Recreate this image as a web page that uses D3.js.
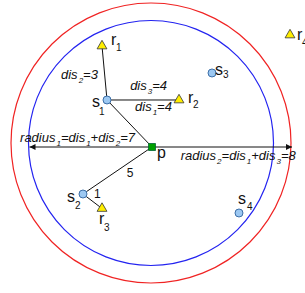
<!DOCTYPE html>
<html><head><meta charset="utf-8">
<script src="https://cdn.jsdelivr.net/npm/d3@7"></script>
<style>html,body{margin:0;padding:0;background:#fff;}svg{display:block;}</style>
</head><body>
<script>
// ---- data (units of distance; p is the origin) ----
const sites = [ // light blue circles
  {id:"s", sub:"1", x:-2.571, y:2.686, lx:-15, ly:7, sx:-8, sy:15},
  {id:"s", sub:"2", x:-3.943, y:-2.686, lx:-16, ly:8, sx:-8, sy:15},
  {id:"s", sub:"3", x:3.429, y:4.229, lx:3, ly:2, sx:11, sy:5},
  {id:"s", sub:"4", x:4.971, y:-3.771, lx:-1, ly:-9, sx:8, sy:-3}
];
const queries = [ // yellow triangles
  {id:"r", sub:"1", x:-2.857, y:5.771, lx:9, ly:-1, sx:14, sy:5},
  {id:"r", sub:"2", x:1.543, y:2.686, lx:9, ly:3, sx:14, sy:8},
  {id:"r", sub:"3", x:-2.857, y:-3.514, lx:-3, ly:16, sx:2, sy:23},
  {id:"r", sub:"4", x:7.886, y:6.4, lx:7, ly:5, sx:12, sy:11}
];
const pPoint = {x:0, y:0};
const circleCenter = {x:-0.057, y:0.229};
const radii = [ {r:7, color:"#2323f0"}, {r:8, color:"#f02323"} ];
const edges = [ // [from, to]
  [sites[0], queries[0]], [sites[0], queries[1]], [sites[0], pPoint],
  [sites[1], pPoint], [sites[1], queries[2]]
];
const textLabels = [
  {parts:[["dis",""],["2","s"],["=3",""]], x:-5.2, y:3.86},
  {parts:[["dis",""],["3","s"],["=4",""]], x:-1.25, y:3.23},
  {parts:[["dis",""],["1","s"],["=4",""]], x:-0.97, y:2.03},
  {parts:[["radius",""],["1","s"],["=dis",""],["1","s"],["+dis",""],["2","s"],["=7",""]], x:-7.54, y:0.3},
  {parts:[["radius",""],["2","s"],["=dis",""],["1","s"],["+dis",""],["3","s"],["=8",""]], x:1.64, y:-0.75}
];
const numLabels = [ {t:"5", x:-1.45, y:-1.71}, {t:"1", x:-3.31, y:-2.91} ];

// ---- scales ----
const W = 305, H = 293, U = 17.5;
const x = d3.scaleLinear().domain([-152/U, (W-152)/U]).range([0, W]);
const y = d3.scaleLinear().domain([(147-H)/U, 147/U]).range([H, 0]);

const svg = d3.select("body").append("svg").attr("width", W).attr("height", H)
  .style("font-family", "'Liberation Sans', Arial, sans-serif");

const defs = svg.append("defs");
defs.append("marker").attr("id","arr").attr("viewBox","0 0 10 10")
  .attr("refX",10).attr("refY",5).attr("markerWidth",9).attr("markerHeight",6)
  .attr("markerUnits","userSpaceOnUse").attr("orient","auto-start-reverse")
  .append("path").attr("d","M0,0L10,5L0,10Z").attr("fill","#111");

// circles
svg.selectAll("circle.ring").data(radii).join("circle").attr("class","ring")
  .attr("cx", x(circleCenter.x)).attr("cy", y(circleCenter.y))
  .attr("r", d => x(d.r) - x(0))
  .attr("fill","none").attr("stroke", d => d.color).attr("stroke-width",1.2);

// arrows
svg.append("line").attr("x1", x(0)).attr("y1", y(0)).attr("x2", x(-radii[0].r)).attr("y2", y(0))
  .attr("stroke","#111").attr("stroke-width",1).attr("marker-end","url(#arr)");
svg.append("line").attr("x1", x(0)).attr("y1", y(0)).attr("x2", x(radii[1].r)).attr("y2", y(0))
  .attr("stroke","#111").attr("stroke-width",1).attr("marker-end","url(#arr)");

// edges
svg.selectAll("line.edge").data(edges).join("line").attr("class","edge")
  .attr("x1", d => x(d[0].x)).attr("y1", d => y(d[0].y))
  .attr("x2", d => x(d[1].x)).attr("y2", d => y(d[1].y))
  .attr("stroke","#111").attr("stroke-width",1);

// site markers
svg.selectAll("circle.site").data(sites).join("circle").attr("class","site")
  .attr("cx", d => x(d.x)).attr("cy", d => y(d.y)).attr("r",4)
  .attr("fill","#9cc8f2").attr("stroke","#3d6fa8").attr("stroke-width",1);

// query markers
svg.selectAll("path.q").data(queries).join("path").attr("class","q")
  .attr("d", d3.symbol(d3.symbolTriangle, 42))
  .attr("transform", d => `translate(${x(d.x)},${y(d.y)})`)
  .attr("fill","#ffee00").attr("stroke","#333").attr("stroke-width",0.8);

// p marker
svg.append("path").attr("d", d3.symbol(d3.symbolSquare, 49))
  .attr("transform", `translate(${x(0)},${y(0)})`)
  .attr("fill","#00a000").attr("stroke","#063").attr("stroke-width",0.8);
svg.append("text").attr("x", x(0)+5).attr("y", y(0)+11).attr("font-size",16).attr("fill","#111").text("p");

// point labels
const pts = sites.concat(queries);
const g = svg.selectAll("g.lab").data(pts).join("g").attr("class","lab");
g.append("text").attr("x", d => x(d.x)+d.lx).attr("y", d => y(d.y)+d.ly)
  .attr("font-size",16).attr("fill","#111").text(d => d.id);
g.append("text").attr("x", d => x(d.x)+d.sx).attr("y", d => y(d.y)+d.sy)
  .attr("font-size",10).attr("fill","#111").text(d => d.sub);

// italic labels
textLabels.forEach(L => {
  const t = svg.append("text").attr("x", x(L.x)).attr("y", y(L.y))
    .attr("font-size",13).attr("font-style","italic").attr("fill","#111");
  let prevSub = false;
  L.parts.forEach(([s, k]) => {
    const ts = t.append("tspan").text(s);
    if (k === "s") { ts.attr("font-size",8).attr("dy",4).attr("dx",1); prevSub = true; }
    else if (prevSub) { ts.attr("dy",-4); prevSub = false; }
  });
});

svg.selectAll("text.num").data(numLabels).join("text").attr("class","num")
  .attr("x", d => x(d.x)).attr("y", d => y(d.y))
  .attr("font-size",12).attr("fill","#111").text(d => d.t);
</script>
</body></html>
